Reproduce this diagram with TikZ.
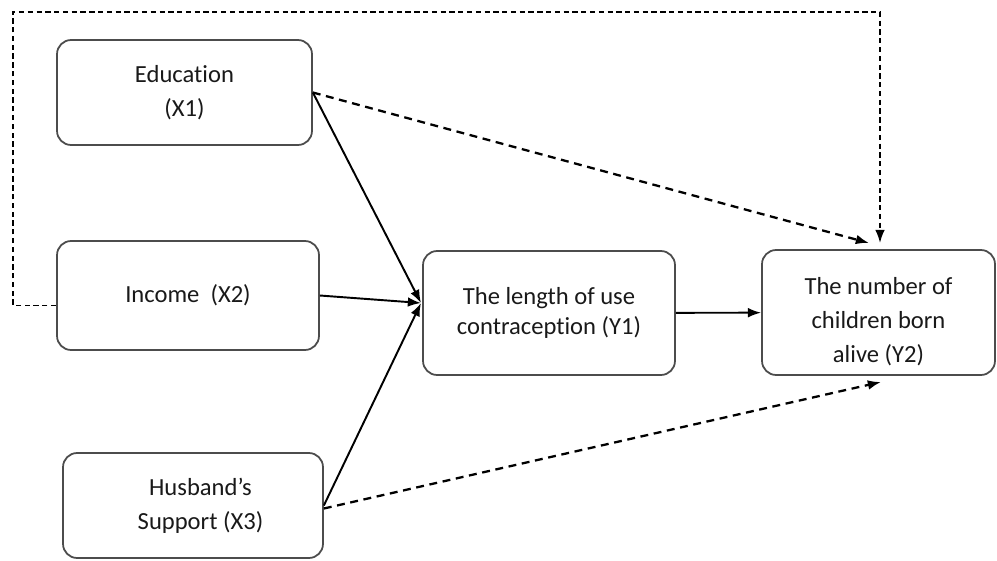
\documentclass[tikz,border=0pt]{standalone}
\usepackage{fontspec}
\setmainfont[Ligatures=NoCommon]{Carlito}
\usetikzlibrary{arrows.meta}

\tikzset{
  varbox/.style={draw=black!70, line width=1pt, rounded corners=8pt, align=center,
    inner sep=0pt, text=black!90, font=\fontsize{14}{19.3}\selectfont},
  link/.style={line width=1.1pt, -{Latex[length=7.5pt,width=5.5pt]}},
  dlink/.style={link, line width=1.3pt, dash pattern=on 4.5pt off 3.2pt},
  feedback/.style={link, line width=1pt, dash pattern=on 3pt off 2pt},
}

\begin{document}
\begin{tikzpicture}[x=0.02cm, y=-0.02cm]
    \useasboundingbox (0,0) rectangle (997,561);

    % independent variables
    \node[varbox, minimum width=5.1cm, minimum height=2.1cm] (edu) at (184.5,92.5) {Education\\(X1)};
    \node[varbox, minimum width=5.24cm, minimum height=2.18cm] (inc) at (188,295.5) {Income\ \ (X2)};
    \node[varbox, minimum width=5.2cm, minimum height=2.1cm] (hus) at (193,505.5) {\hspace*{0.3cm}Husband’s\\\hspace*{0.3cm}Support (X3)};

    % dependent variables
    \node[varbox, minimum width=5.04cm, minimum height=2.48cm, font=\fontsize{14}{16.6}\selectfont] (y1) at (549,313) {The length of use\\contraception (Y1)};
    \node[varbox, minimum width=4.66cm, minimum height=2.5cm] (y2) at (878.5,312.5) {\rule{0pt}{20pt}The number of\\children born\\alive (Y2)};

    \coordinate (hub) at (421,303);
    \coordinate (topA) at (869,243);
    \coordinate (topB) at (880,243);
    \coordinate (botA) at (881,382);

    \draw[link] (edu.east) -- (hub);
    \draw[link] (inc.east) -- (hub);
    \draw[link] (hus.east) -- (hub);
    \draw[link] (y1) -- (y2);

    \draw[dlink] (edu.east) -- (topA);
    \draw[dlink] ([yshift=-0.06cm]hus.east) -- (botA);
    \draw[feedback] ([yshift=-0.2cm]inc.west) -| (13,12) -| (topB);
\end{tikzpicture}
\end{document}
